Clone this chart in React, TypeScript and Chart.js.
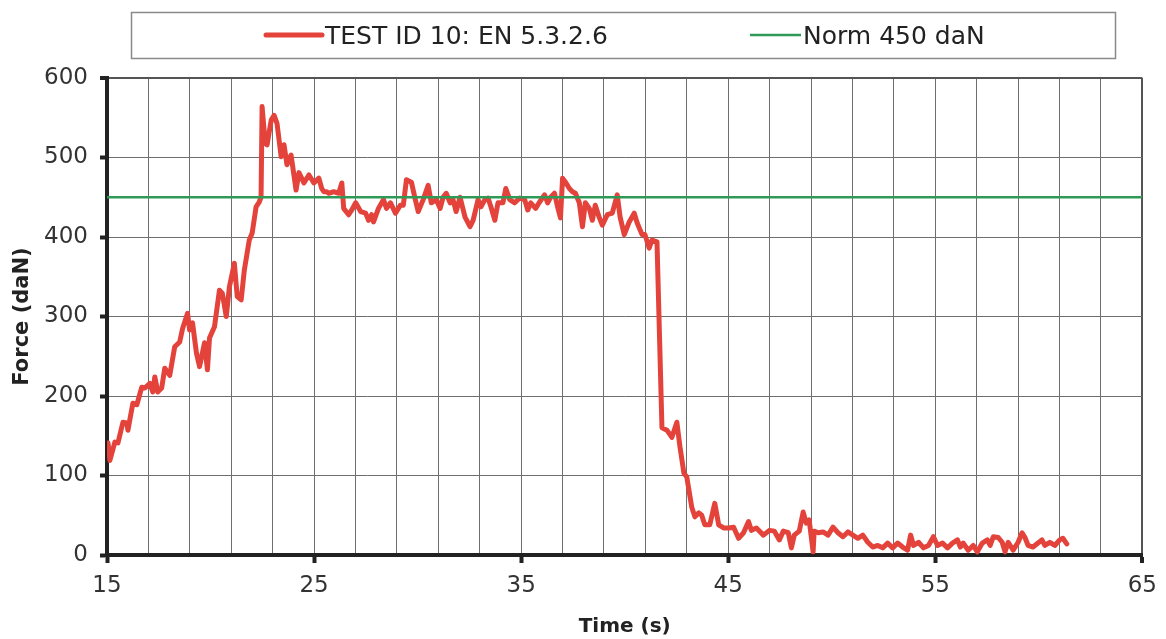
import React, { useEffect, useRef } from "react";
import { Chart, registerables } from "chart.js";

Chart.register(...registerables);

// Measured force trace (s, daN)
const time: number[] = [
  15.05, 15.14, 15.38, 15.53, 15.77, 15.96, 16.01, 16.25, 16.44, 16.68, 16.83, 17.07, 17.21, 17.31, 17.45, 17.64,
  17.79, 18.03, 18.27, 18.51, 18.65, 18.89, 18.99, 19.13, 19.32, 19.47, 19.71, 19.85, 19.95, 20.19, 20.43, 20.57,
  20.76, 20.91, 21.15, 21.29, 21.48, 21.63, 21.87, 22.01, 22.2, 22.35, 22.44, 22.49, 22.64, 22.73, 22.93, 23.07,
  23.21, 23.41, 23.55, 23.69, 23.89, 24.13, 24.27, 24.51, 24.75, 24.99, 25.23, 25.37, 25.47, 25.61, 25.71, 25.95,
  26.19, 26.34, 26.43, 26.67, 26.82, 27.01, 27.25, 27.49, 27.63, 27.78, 27.87, 28.11, 28.35, 28.5, 28.69, 28.93,
  29.17, 29.31, 29.46, 29.7, 29.89, 30.03, 30.27, 30.51, 30.66, 30.9, 31.09, 31.23, 31.38, 31.57, 31.71, 31.86,
  32.05, 32.29, 32.53, 32.68, 32.92, 33.06, 33.25, 33.4, 33.54, 33.73, 33.88, 34.12, 34.26, 34.45, 34.69, 34.93,
  35.17, 35.32, 35.46, 35.7, 35.89, 36.13, 36.28, 36.42, 36.61, 36.76, 36.9, 37.0, 37.14, 37.33, 37.48, 37.62,
  37.81, 37.96, 38.1, 38.29, 38.44, 38.58, 38.78, 38.92, 39.16, 39.4, 39.64, 39.78, 39.98, 40.22, 40.46, 40.6,
  40.84, 40.98, 41.18, 41.32, 41.56, 41.8, 42.04, 42.28, 42.52, 42.67, 42.86, 43.0, 43.24, 43.39, 43.58, 43.72,
  43.87, 44.11, 44.35, 44.54, 44.78, 45.02, 45.26, 45.5, 45.74, 45.98, 46.12, 46.36, 46.7, 46.99, 47.23, 47.47,
  47.66, 47.9, 48.05, 48.19, 48.43, 48.62, 48.77, 48.91, 49.1, 49.15, 49.34, 49.58, 49.82, 50.06, 50.3, 50.54,
  50.78, 51.02, 51.26, 51.5, 51.74, 51.98, 52.22, 52.46, 52.7, 52.94, 53.18, 53.42, 53.66, 53.81, 53.95, 54.19,
  54.43, 54.67, 54.91, 55.11, 55.35, 55.59, 55.83, 56.07, 56.21, 56.35, 56.59, 56.83, 57.03, 57.27, 57.51, 57.65,
  57.8, 58.04, 58.23, 58.37, 58.52, 58.76, 59.0, 59.19, 59.33, 59.48, 59.72, 59.96, 60.15, 60.29, 60.53, 60.77,
  61.01, 61.16, 61.35,
];

const force: number[] = [
  141, 119, 142, 141, 167, 166, 157, 191, 189, 211, 210, 216, 205, 224, 205, 210,
  235, 226, 262, 268, 285, 304, 283, 292, 254, 237, 267, 233, 273, 287, 333, 329,
  300, 337, 367, 325, 321, 358, 396, 405, 438, 444, 450, 564, 518, 516, 547, 553,
  543, 501, 516, 491, 503, 459, 481, 468, 478, 468, 474, 461, 457, 457, 455, 457,
  455, 468, 436, 428, 434, 443, 432, 430, 421, 428, 419, 436, 447, 436, 443, 430,
  440, 440, 472, 469, 447, 432, 447, 465, 443, 447, 436, 450, 455, 443, 447, 432,
  450, 425, 413, 421, 447, 438, 447, 449, 438, 421, 443, 443, 461, 447, 443, 449,
  447, 434, 443, 436, 444, 453, 443, 450, 455, 438, 424, 474, 469, 461, 457, 455,
  443, 413, 443, 436, 421, 440, 424, 415, 428, 430, 453, 425, 403, 419, 430, 418,
  403, 403, 386, 396, 394, 160, 157, 148, 167, 136, 103, 98, 60, 48, 53, 50,
  38, 38, 65, 38, 34, 34, 35, 21, 28, 42, 31, 34, 25, 31, 30, 19,
  30, 28, 9, 25, 30, 54, 40, 44, 4, 30, 28, 29, 25, 35, 28, 23,
  29, 25, 21, 25, 16, 10, 12, 9, 15, 9, 15, 10, 6, 25, 12, 16,
  9, 12, 23, 12, 15, 9, 15, 19, 10, 15, 6, 12, 4, 15, 19, 12,
  23, 22, 16, 4, 16, 6, 16, 28, 22, 12, 10, 15, 19, 12, 16, 12,
  19, 21, 14,
];

// Norm threshold line
const normTime: number[] = [15, 65];
const normForce: number[] = [450, 450];

const seriesLabels: string[] = ["TEST ID 10: EN 5.3.2.6", "Norm 450 daN"];
const xLabelTicks: number[] = [15, 25, 35, 45, 55, 65];
const yLabelTicks: number[] = [0, 100, 200, 300, 400, 500, 600];

const RED = "#e4433b";
const GREEN = "#2f9a55";
const FONT = "'DejaVu Sans', Verdana, sans-serif";

// Boxed legend drawn above the plot area
const boxedLegend = {
  id: "boxedLegend",
  afterDraw(chart: any) {
    const ctx: CanvasRenderingContext2D = chart.ctx;
    ctx.save();
    ctx.strokeStyle = "#8a8a8a";
    ctx.lineWidth = 1.5;
    ctx.strokeRect(131.5, 12.5, 984, 46);
    ctx.font = `25px ${FONT}`;
    ctx.textBaseline = "alphabetic";
    ctx.fillStyle = "#222";
    const lineY = 35;
    const textY = 44;
    const ds = chart.data.datasets;
    let x = 266;
    // first item
    ctx.strokeStyle = ds[0].borderColor;
    ctx.lineWidth = 5;
    ctx.lineCap = "round";
    ctx.beginPath();
    ctx.moveTo(x, lineY);
    ctx.lineTo(x + 56, lineY);
    ctx.stroke();
    x += 59;
    ctx.fillText(ds[0].label, x, textY);
    // second item
    x = 750;
    ctx.strokeStyle = ds[1].borderColor;
    ctx.lineWidth = 2.5;
    ctx.lineCap = "butt";
    ctx.beginPath();
    ctx.moveTo(x, lineY);
    ctx.lineTo(x + 51, lineY);
    ctx.stroke();
    x += 53;
    ctx.fillText(ds[1].label, x, textY);
    ctx.restore();
  },
};

export default function App() {
  const canvasRef = useRef<HTMLCanvasElement | null>(null);

  useEffect(() => {
    document.body.style.margin = "0";
    document.body.style.background = "#ffffff";
    const canvas = canvasRef.current;
    if (!canvas) return;

    const chart = new Chart(canvas, {
      type: "line",
      data: {
        datasets: [
          {
            label: seriesLabels[0],
            data: time.map((t, i) => ({ x: t, y: force[i] })),
            borderColor: RED,
            borderWidth: 5,
            pointRadius: 0,
            tension: 0,
            borderJoinStyle: "round",
            borderCapStyle: "round",
            order: 1,
          },
          {
            label: seriesLabels[1],
            data: normTime.map((t, i) => ({ x: t, y: normForce[i] })),
            borderColor: GREEN,
            borderWidth: 2.5,
            pointRadius: 0,
            order: 0,
          },
        ],
      },
      options: {
        responsive: false,
        animation: false,
        devicePixelRatio: 1,
        layout: { padding: { top: 78, right: 18, left: 0, bottom: 0 } },
        plugins: {
          legend: { display: false },
          tooltip: { enabled: false },
        },
        scales: {
          x: {
            type: "linear",
            min: 15,
            max: 65,
            afterFit: (s: any) => {
              s.height = 84;
            },
            ticks: {
              stepSize: 2,
              autoSkip: false,
              maxRotation: 0,
              padding: 9,
              color: "#333",
              font: { family: FONT, size: 23 },
              callback: (v: any) => (xLabelTicks.includes(Number(v)) ? String(v) : ""),
            },
            grid: {
              color: (c: any) => (c.tick && c.tick.value === 65 ? "#555" : "#6e6e6e"),
              lineWidth: (c: any) => (c.tick && c.tick.value === 65 ? 2 : 1),
              tickLength: 8,
              tickWidth: 4,
              tickColor: (c: any) =>
                c.tick && xLabelTicks.includes(c.tick.value) ? "#222" : "rgba(0,0,0,0)",
            },
            border: { color: "#222", width: 4 },
            title: {
              display: true,
              text: "Time (s)",
              color: "#222",
              font: { family: FONT, size: 20, weight: "bold" },
              padding: { top: 0, bottom: 0 },
            },
          },
          y: {
            min: 0,
            max: 600,
            afterFit: (s: any) => {
              s.width = 107;
            },
            ticks: {
              stepSize: 100,
              padding: 12,
              color: "#333",
              font: { family: FONT, size: 23 },
              callback: (v: any) => (yLabelTicks.includes(Number(v)) ? String(v) : ""),
            },
            grid: {
              color: (c: any) => (c.tick && c.tick.value === 600 ? "#555" : "#6e6e6e"),
              lineWidth: (c: any) => (c.tick && c.tick.value === 600 ? 2 : 1),
              tickLength: 7,
              tickWidth: 4,
              tickColor: "#222",
            },
            border: { color: "#222", width: 4 },
            title: {
              display: true,
              text: "Force (daN)",
              color: "#222",
              font: { family: FONT, size: 21, weight: "bold" },
              padding: { top: 10, bottom: 0 },
            },
          },
        },
      },
      plugins: [boxedLegend],
    });

    return () => chart.destroy();
  }, []);

  return (
    <div style={{ width: 1166, height: 639, background: "#fff" }}>
      <canvas ref={canvasRef} width={1166} height={639} />
    </div>
  );
}
